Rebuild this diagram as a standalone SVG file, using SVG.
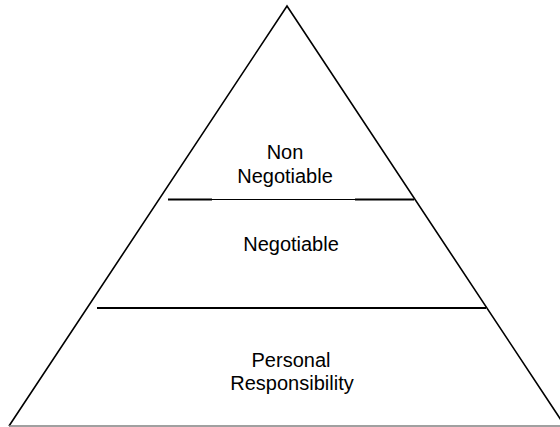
<svg xmlns="http://www.w3.org/2000/svg" width="560" height="427" viewBox="0 0 560 427">
  <style>
    .edge { fill: none; stroke: #000; stroke-width: 1.6; }
    .base { fill: none; stroke: #808080; stroke-width: 1.6; }
    .tier { stroke: #000; stroke-width: 2; }
    .thin { stroke: #000; stroke-width: 1.2; }
    .label { font-family: "Liberation Sans", Arial, sans-serif; font-size: 20px; fill: #000; text-anchor: middle; }
  </style>
  <rect width="560" height="427" fill="#fff"/>
  <!-- pyramid outline -->
  <g id="pyramid">
    <polyline class="edge" points="9,426 287,6 565,426"/>
    <line class="base" x1="9" y1="426" x2="560" y2="426"/>
  </g>
  <!-- tier dividers -->
  <g id="dividers">
    <line class="tier" x1="168" y1="199.5" x2="212" y2="199.5"/>
    <line class="thin" x1="212" y1="199.5" x2="355" y2="199.5"/>
    <line class="tier" x1="355" y1="199.5" x2="414" y2="199.5"/>
    <line class="tier" x1="97" y1="308" x2="486" y2="308"/>
  </g>
  <g id="non-negotiable">
    <text class="label" x="285" y="159">Non</text>
    <text class="label" x="285" y="183">Negotiable</text>
  </g>
  <g id="negotiable">
    <text class="label" x="291" y="251">Negotiable</text>
  </g>
  <g id="personal-responsibility">
    <text class="label" x="291" y="367">Personal</text>
    <text class="label" x="292" y="390">Responsibility</text>
  </g>
</svg>
